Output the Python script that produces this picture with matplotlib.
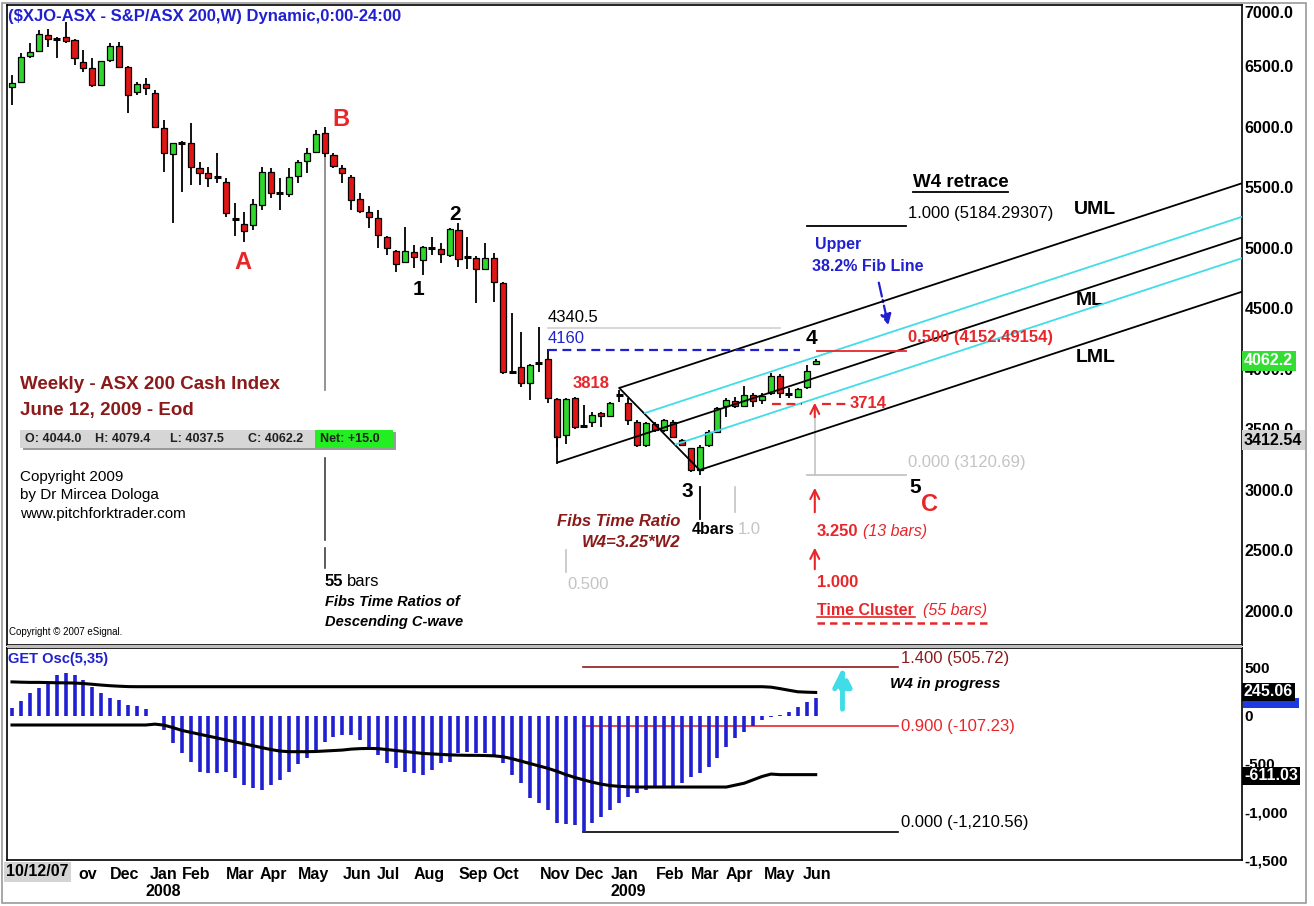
import numpy as np
import matplotlib
matplotlib.use("Agg")
import matplotlib.pyplot as plt
import matplotlib.transforms as mtransforms
from matplotlib.patches import Rectangle

# ---------------- data ----------------
opens = [6330, 6372, 6587, 6628, 6760, 6730, 6744, 6719, 6537, 6488,
         6347, 6554, 6669, 6496, 6289, 6355, 6281, 5992, 5777, 5872,
         5868, 5661, 5620, 5590, 5545, 5245, 5198, 5190, 5355, 5628,
         5458, 5446, 5595, 5719, 5793, 5950, 5769, 5661, 5587, 5405,
         5297, 5248, 5091, 4975, 4884, 4967, 4901, 5003, 4992, 4942,
         5149, 4930, 4917, 4826, 4917, 4711, 3980, 4017, 3884, 4055,
         4083, 3752, 3455, 3760, 3535, 3562, 3636, 3612, 3790, 3719,
         3562, 3372, 3545, 3496, 3562, 3413, 3347, 3165, 3372, 3479,
         3694, 3736, 3694, 3785, 3744, 3802, 3942, 3795, 3769, 3851,
         4044.0]
highs = [6430, 6611, 6694, 6802, 6810, 6740, 6868, 6730, 6636, 6570,
         6545, 6694, 6702, 6500, 6372, 6405, 6306, 6058, 5868, 5880,
         6033, 5711, 5669, 5785, 5578, 5372, 5297, 5405, 5669, 5661,
         5578, 5661, 5727, 5826, 5975, 6000, 5785, 5686, 5603, 5455,
         5347, 5314, 5100, 4983, 5174, 5025, 5015, 5091, 5041, 5165,
         5207, 5091, 4930, 5041, 4959, 4715, 4463, 4306, 4040, 4347,
         4165, 3760, 3760, 3765, 3703, 3645, 3645, 3727, 3826, 3760,
         3579, 3560, 3562, 3587, 3579, 3420, 3350, 3372, 3496, 3686,
         3760, 3769, 3860, 3802, 3802, 3967, 3959, 3843, 3843, 4033,
         4079.4]
lows = [6182, 6360, 6570, 6620, 6661, 6570, 6694, 6512, 6454, 6330,
        6339, 6537, 6488, 6116, 6264, 6264, 5990, 5628, 5207, 5463,
        5521, 5521, 5504, 5537, 5256, 5099, 5050, 5149, 5314, 5413,
        5314, 5421, 5537, 5620, 5785, 5752, 5661, 5537, 5314, 5289,
        5165, 5000, 4942, 4802, 4876, 4835, 4777, 4942, 4876, 4926,
        4843, 4826, 4545, 4818, 4554, 3960, 3960, 3851, 3744, 3975,
        3719, 3355, 3380, 3504, 3512, 3521, 3521, 3603, 3727, 3537,
        3355, 3355, 3479, 3479, 3430, 3364, 3149, 3121, 3355, 3471,
        3603, 3678, 3686, 3686, 3711, 3785, 3760, 3760, 3760, 3835,
        4037.5]
closes = [6364, 6578, 6620, 6769, 6727, 6727, 6711, 6570, 6488, 6347,
          6545, 6669, 6496, 6264, 6355, 6322, 6000, 5785, 5868, 5864,
          5669, 5620, 5578, 5578, 5289, 5236, 5140, 5364, 5628, 5455,
          5452, 5587, 5711, 5785, 5942, 5785, 5678, 5620, 5397, 5306,
          5256, 5107, 5000, 4868, 4975, 4926, 5008, 4998, 4950, 5157,
          4909, 4922, 4826, 4917, 4719, 3975, 3972, 3884, 4033, 4045,
          3760, 3438, 3752, 3521, 3528, 3620, 3612, 3719, 3782, 3579,
          3372, 3554, 3496, 3579, 3438, 3372, 3165, 3355, 3479, 3678,
          3744, 3694, 3785, 3736, 3777, 3942, 3802, 3788, 3835, 3983,
          4062.2]
net_change = 15.0

osc_values = [80, 160, 236, 288, 358, 427, 451, 427, 375, 306,
              236, 184, 167, 115, 104, 69, -5, -146, -285, -389,
              -476, -580, -597, -597, -580, -650, -719, -754, -771, -719,
              -667, -580, -500, -441, -372, -267, -215, -198, -198, -250,
              -354, -406, -486, -545, -580, -597, -615, -563, -493, -476,
              -389, -372, -389, -389, -406, -493, -615, -702, -858, -910,
              -979, -1118, -1125, -1136, -1205, -1118, -1049, -979, -910, -847,
              -806, -771, -754, -743, -736, -702, -632, -590, -528, -441,
              -320, -233, -163, -104, -42, -10, 15, 40, 97, 149,
              184]
osc_upper = [355, 352, 350, 350, 348, 346, 345, 343, 338, 330,
             322, 315, 310, 306, 305, 305, 305, 305, 305, 305,
             305, 305, 305, 305, 305, 305, 305, 305, 305, 305,
             305, 305, 305, 305, 305, 305, 305, 305, 305, 305,
             305, 305, 305, 305, 305, 305, 305, 305, 305, 305,
             305, 305, 305, 305, 305, 305, 305, 305, 305, 305,
             305, 305, 305, 305, 305, 305, 305, 305, 305, 305,
             305, 305, 305, 305, 305, 305, 305, 305, 305, 305,
             305, 305, 305, 305, 305, 300, 285, 268, 252, 248,
             245.06]
osc_lower = [-94, -94, -94, -94, -94, -94, -94, -94, -94, -94,
             -94, -94, -94, -94, -94, -94, -85, -95, -120, -150,
             -170, -190, -210, -230, -250, -270, -290, -310, -330, -350,
             -365, -372, -372, -372, -370, -365, -360, -355, -345, -340,
             -338, -340, -350, -360, -370, -380, -390, -395, -400, -405,
             -408, -410, -410, -412, -415, -425, -445, -470, -495, -520,
             -545, -575, -610, -640, -665, -690, -710, -725, -733, -738,
             -740, -740, -740, -740, -740, -740, -740, -740, -740, -740,
             -740, -720, -700, -665, -630, -605, -611, -611, -611, -611,
             -611.03]

month_labels = ["ov", "Dec", "Jan", "Feb", "Mar", "Apr", "May", "Jun", "Jul", "Aug",
                "Sep", "Oct", "Nov", "Dec", "Jan", "Feb", "Mar", "Apr", "May", "Jun"]
month_pos = [8.5, 12.6, 17.0, 20.6, 25.5, 29.3, 33.8, 38.6, 42.1, 46.7,
             51.6, 55.3, 60.8, 64.7, 68.6, 73.7, 77.6, 81.5, 86.0, 90.1]
year_labels = ["2008", "2009"]
year_pos = [16.9, 69.0]
price_ticks = [2000, 2500, 3000, 3500, 4000, 4500, 5000, 5500, 6000, 6500, 7000]
osc_ticks = [500, 0, -500, -1000, -1500]
osc_tick_labels = ["500", "0", "-500", "-1,000", "-1,500"]

# pitchfork pivots (bar index, price)
pf_bars = [61, 68, 77]
pf_prices = [3225, 3843, 3165]
# W4 retracement levels
w4_levels = ["1.000 (5184.29307)", "0.500 (4152.49154)", "0.000 (3120.69)"]
w4_prices = [5184.29307, 4152.49154, 3120.69]
# oscillator fib levels
osc_fib_labels = ["1.400 (505.72)", "0.900 (-107.23)", "0.000 (-1,210.56)"]
osc_fib_values = [505.72, -107.23, -1210.56]

# ---------------- figure ----------------
W, H = 1314, 906
plt.rcParams['font.family'] = ['Liberation Sans', 'DejaVu Sans']
fig = plt.figure(figsize=(W / 100, H / 100), dpi=100)
fig.patch.set_facecolor('white')

def fx(px):
    return px / W

def fy(py):
    return 1 - py / H

def ftext(px, py, s, **kw):
    kw.setdefault('va', 'center')
    return fig.text(fx(px), fy(py), s, **kw)

ax = fig.add_axes([fx(7), fy(645), fx(1242) - fx(7), fy(5) - fy(645)])
ox = fig.add_axes([fx(7), fy(860), fx(1242) - fx(7), fy(648) - fy(860)])

XMIN, XMAX = -0.56, 137.74
for a in (ax, ox):
    a.set_xlim(XMIN, XMAX)
    for sp in a.spines.values():
        sp.set_color('black')
        sp.set_linewidth(1.2)
ax.set_ylim(1719, 7008)
ox.set_ylim(-1500, 708)

GREEN = '#2ED62E'
RED = '#E01515'
BLUE = '#2020D0'
DRED = '#8B1A1A'
ARED = '#E8262A'
CYAN = '#40DDE8'
LGRAY = '#C4C4C4'

# ---------------- candles ----------------
xs = np.arange(len(opens))
for i in xs:
    o, h, l, c = opens[i], highs[i], lows[i], closes[i]
    ax.vlines(i, l, h, color='black', lw=1.3, zorder=3)
    if abs(c - o) < 15:
        ax.hlines((o + c) / 2, i - 0.4, i + 0.4, color='black', lw=2.2, zorder=4)
    else:
        col = GREEN if c > o else RED
        ax.add_patch(Rectangle((i - 0.34, min(o, c)), 0.68, abs(c - o),
                               facecolor=col, edgecolor='black', lw=0.9, zorder=4))

# ---------------- price axis ----------------
ax.yaxis.tick_right()
ax.set_yticks(price_ticks)
ax.set_yticklabels([f"{p:.1f}" for p in price_ticks], fontsize=11.5, fontweight='bold')
ax.tick_params(axis='y', length=0, pad=2)
ax.tick_params(axis='x', length=0, labelbottom=False)
for lbl in ax.get_yticklabels():
    if lbl.get_text() == "7000.0":
        lbl.set_va('top')

# ---------------- pitchfork ----------------
A = np.array([pf_bars[0], pf_prices[0]], float)
B = np.array([pf_bars[1], pf_prices[1]], float)
C = np.array([pf_bars[2], pf_prices[2]], float)
M = (B + C) / 2
slope = (M[1] - A[1]) / (M[0] - A[0])

def line_from(p, color, lw=1.3):
    ax.plot([p[0], XMAX], [p[1], p[1] + slope * (XMAX - p[0])], color=color, lw=lw, zorder=5,
            solid_capstyle='butt')

line_from(A, 'black')
line_from(B, 'black')
line_from(C, 'black')
ax.plot([B[0], C[0]], [B[1], C[1]], color='black', lw=1.3, zorder=5)
ax.plot([A[0], A[0]], [closes[pf_bars[0]], A[1]], color='black', lw=1.3, zorder=5)
# 38.2% lines (cyan) start on the B-C base line
off_B = B[1] - (A[1] + slope * (B[0] - A[0]))
off_C = C[1] - (A[1] + slope * (C[0] - A[0]))
for frac, base_off in ((0.382, off_B), (0.382, off_C)):
    target = frac * base_off
    t = (off_B - target) / (off_B - off_C)
    P = B + t * (C - B)
    line_from(P, CYAN, lw=1.3)

# ---------------- horizontal levels ----------------
ax.plot([60.0, 86.0], [4340.5, 4340.5], color='#D0D0D0', lw=1.2, zorder=2)
ax.plot([60.0, 88.2], [4160, 4160], color=BLUE, lw=1.6, ls=(0, (4, 2.5)), zorder=6)
ax.plot([85.1, 88.5], [3714, 3714], color=ARED, lw=1.6, ls=(0, (4, 2.5)), zorder=6)
ax.plot([90.7, 93.6], [3714, 3714], color=ARED, lw=1.6, ls=(0, (4, 2.5)), zorder=6)

w4_colors = ['black', ARED, LGRAY]
w4_x0 = [89.0, 90.2, 89.0]
for lvl, pr, col, x0 in zip(w4_levels, w4_prices, w4_colors, w4_x0):
    ax.plot([x0, 100.1], [pr, pr], color=col, lw=1.3, zorder=6)
    ax.text(100.35, pr + 104, lvl, color=col, fontsize=12,
            fontweight='bold' if col == ARED else 'normal', va='center', ha='left', zorder=7)
ax.plot([89.9, 89.9], [w4_prices[2], 3600], color=LGRAY, lw=1.2, zorder=2)

# ---------------- labels on price panel ----------------
ax.text(25.9, 4884, "A", color=ARED, fontsize=17, fontweight='bold', ha='center', va='center')
ax.text(36.8, 6058, "B", color=ARED, fontsize=17, fontweight='bold', ha='center', va='center')
ax.text(102.8, 2876, "C", color=ARED, fontsize=17, fontweight='bold', ha='center', va='center')
for s, xx, yy in (("1", 45.5, 4653), ("2", 49.6, 5273), ("3", 75.6, 2984),
                  ("4", 89.5, 4256), ("5", 101.2, 3017)):
    ax.text(xx, yy, s, color='black', fontsize=15, fontweight='bold', ha='center', va='center')

ax.text(121.3, 5314, "UML", fontsize=14, fontweight='bold', ha='center', va='center')
ax.text(120.7, 4570, "ML", fontsize=14, fontweight='bold', ha='center', va='center')
ax.text(121.3, 4091, "LML", fontsize=14, fontweight='bold', ha='center', va='center')
ax.text(106.2, 5545, "W4 retrace", fontsize=13.5, fontweight='bold', ha='center', va='center')
ax.plot([100.9, 111.5], [5463, 5463], color='black', lw=1.3)

ax.text(89.9, 5025, "Upper", color=BLUE, fontsize=11.5, fontweight='bold', ha='left', va='center')
ax.text(89.6, 4851, "38.2% Fib Line", color=BLUE, fontsize=11.5, fontweight='bold', ha='left', va='center')
ax.annotate("", xy=(98.2, 4339), xytext=(97.0, 4736),
            arrowprops=dict(arrowstyle='-|>', color=BLUE, lw=1.6, ls='-.', mutation_scale=16))

ax.text(60.0, 4422, "4340.5", fontsize=12, ha='left', va='center')
ax.text(60.0, 4256, "4160", color=BLUE, fontsize=12, ha='left', va='center')
ax.text(62.8, 3884, "3818", color=ARED, fontsize=12, fontweight='bold', ha='left', va='center')
ax.text(93.8, 3711, "3714", color=ARED, fontsize=12, fontweight='bold', ha='left', va='center')

ax.text(0.9, 3868, "Weekly - ASX 200 Cash Index", color=DRED, fontsize=13.5, fontweight='bold',
        ha='left', va='center')
ax.text(0.9, 3661, "June 12, 2009 - Eod", color=DRED, fontsize=13.5, fontweight='bold',
        ha='left', va='center')

# OHLC strip
ax.add_patch(Rectangle((1.2, 3330), 41.8, 149, facecolor='#9A9A9A', edgecolor='none', zorder=6))
ax.add_patch(Rectangle((0.9, 3347), 41.8, 149, facecolor='#D6D6D6', edgecolor='none', zorder=7))
ax.add_patch(Rectangle((33.9, 3347), 8.8, 149, facecolor='#22EE22', edgecolor='none', zorder=7))
ohlc_txt = [f"O: {opens[-1]:.1f}", f"H: {highs[-1]:.1f}", f"L: {lows[-1]:.1f}", f"C: {closes[-1]:.1f}",
            f"Net: {net_change:+.1f}"]
for s, xx in zip(ohlc_txt, (1.46, 9.3, 17.7, 26.4, 34.5)):
    ax.text(xx, 3421, s, fontsize=9, fontweight='bold', ha='left', va='center', zorder=8, color='#202020')

for s, yy in (("Copyright 2009", 3108), ("by Dr Mircea Dologa", 2959), ("www.pitchforktrader.com", 2802)):
    ax.text(0.9, yy, s, fontsize=11, ha='left', va='center')
ax.text(-0.3, 1827, "Copyright \u00a9 2007 eSignal.", fontsize=7, ha='left', va='center')

# B time line
for y0, y1, col in ((lows[35], 3826, '#808080'), (3265, 2587, '#404040'), (2521, 2356, '#404040')):
    ax.plot([35, 35], [y0, y1], color=col, lw=1.2, zorder=2)
ax.text(35.0, 2240, "55", fontsize=12, fontweight='bold', ha='left', va='center')
ax.text(37.5, 2240, "bars", fontsize=12, ha='left', va='center')
ax.text(35.0, 2075, "Fibs Time Ratios of", fontsize=10.5, fontweight='bold', style='italic', ha='left', va='center')
ax.text(35.0, 1909, "Descending C-wave", fontsize=10.5, fontweight='bold', style='italic', ha='left', va='center')

ax.text(74.8, 2736, "Fibs Time Ratio", color=DRED, fontsize=12, fontweight='bold', style='italic',
        ha='right', va='center')
ax.text(74.8, 2570, "W4=3.25*W2", color=DRED, fontsize=12, fontweight='bold', style='italic',
        ha='right', va='center')
ax.plot([77, 77], [3025, 2760], color='black', lw=1.3)
ax.text(76.1, 2670, "4bars", fontsize=11.5, fontweight='bold', ha='left', va='center')
ax.plot([81.0, 81.0], [3025, 2818], color=LGRAY, lw=1.2)
ax.text(81.3, 2670, "1.0", color=LGRAY, fontsize=12, ha='left', va='center')
ax.plot([62.0, 62.0], [2504, 2322], color=LGRAY, lw=1.2)
ax.text(62.2, 2215, "0.500", color=LGRAY, fontsize=12, ha='left', va='center')

for y0, y1 in ((3579, 3744), (2793, 3041), (2322, 2546)):
    ax.annotate("", xy=(89.9, y1), xytext=(89.9, y0),
                arrowprops=dict(arrowstyle='->', color=ARED, lw=1.5, mutation_scale=16))
ax.text(90.1, 2661, "3.250", color=ARED, fontsize=12, fontweight='bold', ha='left', va='center')
ax.text(95.3, 2661, "(13 bars)", color=ARED, fontsize=11.5, style='italic', ha='left', va='center')
ax.text(90.1, 2008, "1.000", color=ARED, fontsize=12, fontweight='bold', ha='left', va='center',
        transform=ax.transData + mtransforms.ScaledTranslation(0, 0.0, fig.dpi_scale_trans)).set_y(2232)
ax.text(90.1, 2008, "Time Cluster", color=ARED, fontsize=11.5, fontweight='bold', ha='left', va='center')
ax.text(102.0, 2008, "(55 bars)", color=ARED, fontsize=11.5, style='italic', ha='left', va='center')
ax.plot([90.2, 101.1], [1950, 1950], color=ARED, lw=1.2)
ax.plot([90.2, 109.3], [1901, 1901], color=ARED, lw=1.8, ls=(0, (3, 2)))

# ---------------- oscillator ----------------
ox.vlines(xs, 0, osc_values, color=BLUE, lw=2.6, zorder=3)
ox.plot(xs, osc_upper, color='black', lw=2.2, zorder=4)
ox.plot(xs, osc_lower, color='black', lw=2.2, zorder=4)
ox.yaxis.tick_right()
ox.set_yticks(osc_ticks)
ox.set_yticklabels(osc_tick_labels, fontsize=11, fontweight='bold')
ox.tick_params(axis='y', length=0, pad=2)
ox.text(-0.4, 594, "GET Osc(5,35)", color=BLUE, fontsize=10.5, fontweight='bold', ha='left', va='center')

ofib_cols = ['#8B1A1A', ARED, 'black']
ofib_dy = [98, 0, 105]
for lab, val, col, dy in zip(osc_fib_labels, osc_fib_values, ofib_cols, ofib_dy):
    ox.plot([63.9, 99.2], [val, val], color=col, lw=1.2, zorder=2)
    ox.text(99.5, val + dy, lab, color=col, fontsize=12, ha='left', va='center')
ox.text(98.3, 333, "W4 in progress", fontsize=11, fontweight='bold', style='italic', ha='left', va='center')
ox.annotate("", xy=(93.0, 531), xytext=(93.0, 42),
            arrowprops=dict(arrowstyle='-|>', color=CYAN, lw=3.5, ls='--', mutation_scale=28))

# x labels
ox.set_xticks(month_pos)
ox.set_xticklabels(month_labels, fontsize=11.5, fontweight='bold')
ox.tick_params(axis='x', length=0, pad=5)
ytrans = ox.transData + mtransforms.ScaledTranslation(0, -0.24, fig.dpi_scale_trans)
for s, xx in zip(year_labels, year_pos):
    ox.text(xx, -1500, s, fontsize=11.5, fontweight='bold', ha='center', va='top',
            transform=ytrans, clip_on=False)

ftext(6, 872, "10/12/07", fontsize=11.5, fontweight='bold', ha='left',
      bbox=dict(boxstyle='square,pad=0.15', facecolor='#D4D4D4', edgecolor='none'))

# ---------------- title & value tags ----------------
ftext(8, 16, "($XJO-ASX - S&P/ASX 200,W) Dynamic,0:00-24:00", color=BLUE, fontsize=12, fontweight='bold', ha='left')
ftext(1244, 361, f"{closes[-1]:.1f}", color='white', fontsize=11.5, fontweight='bold', ha='left',
      bbox=dict(boxstyle='square,pad=0.15', facecolor='#33DD33', edgecolor='none'))
ftext(1244, 440, "3412.54", color='black', fontsize=11.5, fontweight='bold', ha='left',
      bbox=dict(boxstyle='square,pad=0.15', facecolor='#D4D4D4', edgecolor='none'))
fig.add_artist(Rectangle((fx(1243), fy(708)), fx(56), 10 / H, transform=fig.transFigure,
                         facecolor='#1D3BE0', edgecolor='none'))
ftext(1244, 692, f"{osc_upper[-1]:.2f}", color='white', fontsize=11.5, fontweight='bold', ha='left',
      bbox=dict(boxstyle='square,pad=0.12', facecolor='black', edgecolor='none'))
ftext(1244, 776, f"{osc_lower[-1]:.2f}", color='white', fontsize=11.5, fontweight='bold', ha='left',
      bbox=dict(boxstyle='square,pad=0.12', facecolor='black', edgecolor='none'))

# separator between panels and outer frame
fig.add_artist(Rectangle((fx(7), fy(648)), fx(1235), 3 / H, transform=fig.transFigure,
                         facecolor='#BDBDBD', edgecolor='none'))
fig.add_artist(Rectangle((fx(2), fy(903)), fx(1304), fy(3) - fy(903), transform=fig.transFigure,
                         facecolor='none', edgecolor='#9A9A9A', lw=1.2))

fig.savefig("out.png", dpi=100)
